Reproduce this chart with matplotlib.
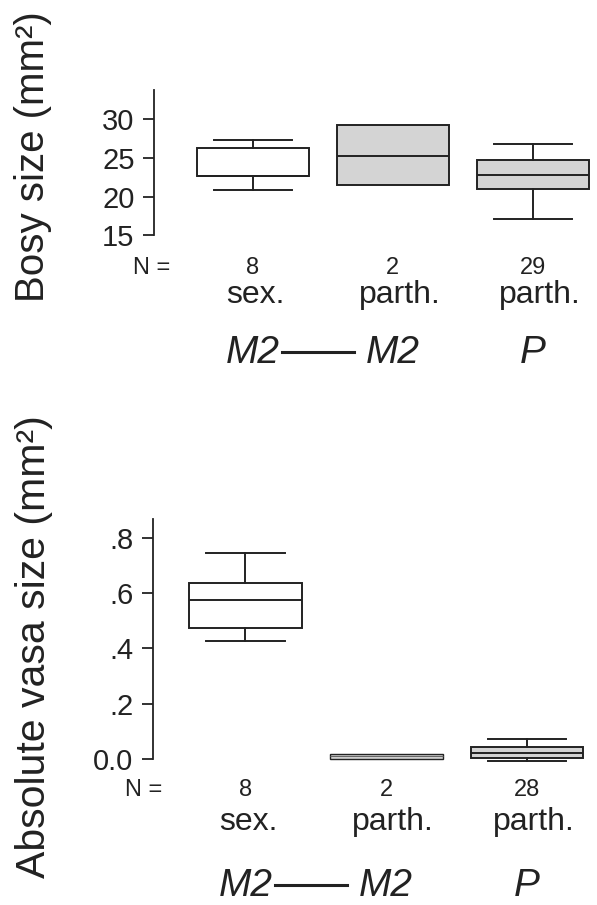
import matplotlib
matplotlib.use("Agg")
import matplotlib.pyplot as plt
from matplotlib.transforms import blended_transform_factory

plt.rcParams["font.family"] = ["Liberation Sans", "DejaVu Sans"]

# 数据
groups = ["sex.", "parth.", "parth."]
species = ["M2", "M2", "P"]

body_n = [8, 2, 29]
body_q1 = [22.67, 21.47, 20.99]
body_med = [22.73, 25.25, 22.80]
body_q3 = [26.33, 29.26, 24.70]
body_lo = [20.86, 21.47, 17.15]
body_hi = [27.32, 29.26, 26.77]

vasa_n = [8, 2, 28]
vasa_q1 = [0.473, 0.000, 0.0015]
vasa_med = [0.577, 0.008, 0.022]
vasa_q3 = [0.639, 0.017, 0.0436]
vasa_lo = [0.426, 0.000, -0.008]
vasa_hi = [0.745, 0.017, 0.070]

body_ticks = [15, 20, 25, 30]
body_ticklabels = ["15", "20", "25", "30"]
vasa_ticks = [0.0, 0.2, 0.4, 0.6, 0.8]
vasa_ticklabels = ["0.0", ".2", ".4", ".6", ".8"]

fill_colors = ["white", "#d4d4d4", "#d4d4d4"]
ink = "#222222"
W, H = 597, 905


def fy(py):
    return 1 - py / H


def draw_panel(ax, n, q1, med, q3, lo, hi, ticks, ticklabels, rows, tick_fs):
    stats = []
    for i in range(3):
        stats.append(dict(med=med[i], q1=q1[i], q3=q3[i],
                          whislo=lo[i], whishi=hi[i], fliers=[]))
    pos = [1, 2, 3]
    bp = ax.bxp(stats, positions=pos, widths=0.8, patch_artist=True,
                showfliers=False, capwidths=0.56,
                boxprops=dict(edgecolor=ink, linewidth=1.4),
                medianprops=dict(color=ink, linewidth=1.4),
                whiskerprops=dict(color=ink, linewidth=1.4),
                capprops=dict(color=ink, linewidth=1.4))
    for patch, c in zip(bp["boxes"], fill_colors):
        patch.set_facecolor(c)
    for i in range(3):
        # n=2 的组没有须
        if n[i] <= 2:
            bp["caps"][2 * i].set_visible(False)
            bp["caps"][2 * i + 1].set_visible(False)
            bp["whiskers"][2 * i].set_visible(False)
            bp["whiskers"][2 * i + 1].set_visible(False)
        # 很扁的箱子用细线，免得全黑
        if q3[i] - q1[i] < 0.03 * (ticks[-1] - ticks[0]):
            bp["boxes"][i].set_linewidth(1.0)
            bp["medians"][i].set_linewidth(0.8)
            bp["medians"][i].set_color("#666666")
        for art in (bp["caps"][2 * i], bp["caps"][2 * i + 1],
                    bp["whiskers"][2 * i], bp["whiskers"][2 * i + 1]):
            art.set_clip_on(False)

    for s in ["top", "right", "bottom"]:
        ax.spines[s].set_visible(False)
    ax.spines["left"].set_linewidth(1.3)
    ax.spines["left"].set_color(ink)
    ax.set_xticks([])
    ax.set_yticks(ticks)
    ax.set_yticklabels(ticklabels)
    ax.tick_params(axis="y", direction="out", length=8, width=1.3,
                   color=ink, labelcolor=ink, pad=6, labelsize=tick_fs)

    trans = blended_transform_factory(ax.transData, fig.transFigure)
    n_y, grp_y, sp_y, line_y, nlab_x = rows
    ax.text(nlab_x, fy(n_y), "N =", transform=trans, ha="center",
            va="center", fontsize=17, color=ink)
    for i in range(3):
        ax.text(pos[i], fy(n_y), str(n[i]), transform=trans, ha="center",
                va="center", fontsize=17, color=ink)
        off = 0.02 if i == 0 else 0.05
        ax.text(pos[i] + off, fy(grp_y), groups[i], transform=trans,
                ha="center", va="baseline", fontsize=23, color=ink)
        ax.text(pos[i], fy(sp_y), species[i], transform=trans, ha="center",
                va="baseline", fontsize=28, style="italic", color=ink)
    ax.plot([1.21, 1.72], [fy(line_y), fy(line_y)], transform=trans,
            color=ink, linewidth=2.2, clip_on=False)


fig = plt.figure(figsize=(W / 100, H / 100), dpi=100)

# 上图：体长
ax1 = fig.add_axes([154 / W, fy(235.3), (595 - 154) / W, (235.3 - 90) / H])
draw_panel(ax1, body_n, body_q1, body_med, body_q3, body_lo, body_hi,
           body_ticks, body_ticklabels, (268, 303, 363, 351.5, 0.28), 21)
ax1.set_xlim(0.295, 3.4425)
ax1.set_ylim(15, 33.79)

# 下图：vasa
ax2 = fig.add_axes([152.7 / W, fy(762.8), (595 - 152.7) / W, (762.8 - 519.3) / H])
draw_panel(ax2, vasa_n, vasa_q1, vasa_med, vasa_q3, vasa_lo, vasa_hi,
           vasa_ticks, vasa_ticklabels, (790, 830, 896, 885, 0.28), 21)
ax2.set_xlim(0.341, 3.483)
ax2.set_ylim(-0.015, 0.869)
ax2.spines["left"].set_bounds(0, 0.869)

fig.text(33 / W, fy(156.5), "Bosy size (mm²)", rotation=90, ha="center",
         va="center", fontsize=29, color=ink)
fig.text(34 / W, fy(646.5), "Absolute vasa size (mm²)", rotation=90,
         ha="center", va="center", fontsize=29.5, color=ink)

fig.savefig("out.png", dpi=100)
